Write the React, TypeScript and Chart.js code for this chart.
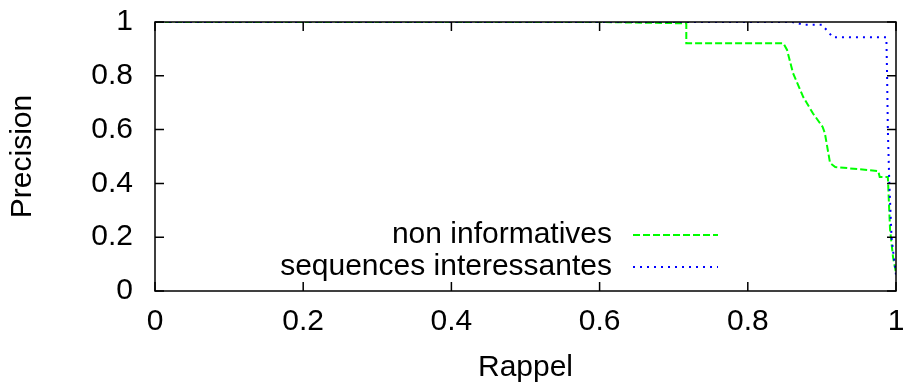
import { useEffect, useRef } from "react";
import { Chart, registerables } from "chart.js";

Chart.register(...registerables);

// Axis ticks
const xTicks = [0, 0.2, 0.4, 0.6, 0.8, 1];
const yTicks = [0, 0.2, 0.4, 0.6, 0.8, 1];

// Series names
const seriesNames = ["non informatives", "sequences interessantes"];

// Precision / recall curve: non informatives
const nonInfoRecall = [0, 0.6, 0.717, 0.717, 0.848, 0.853, 0.861, 0.875, 0.888, 0.901, 0.904, 0.911, 0.918, 0.976, 0.978, 0.989, 0.992, 0.996, 1];
const nonInfoPrecision = [1, 1, 0.995, 0.921, 0.921, 0.896, 0.81, 0.72, 0.66, 0.61, 0.587, 0.476, 0.461, 0.446, 0.424, 0.424, 0.227, 0.126, 0.067];

// Precision / recall curve: sequences interessantes
const seqRecall = [0, 0.86, 0.875, 0.9, 0.915, 0.987, 0.988, 0.989, 0.991, 0.994, 0.997, 1];
const seqPrecision = [1, 1, 0.99, 0.99, 0.943, 0.943, 0.8, 0.6, 0.4, 0.2, 0.126, 0.06];

const FONT = "'Liberation Sans', Arial, Helvetica, sans-serif";
const FONT_SIZE = 30;

const toPoints = (xs: number[], ys: number[]) => xs.map((x, i) => ({ x, y: ys[i] }));

const fmt = (v: number) => String(Number(v.toFixed(1)));

// Fixed scale box size, no extra label overhang padding
const fixBox = (size: number, horizontal: boolean) => (s: any) => {
  if (horizontal) s.height = size;
  else s.width = size;
  s.paddingTop = 0;
  s.paddingBottom = 0;
  s.paddingLeft = 0;
  s.paddingRight = 0;
};

// Border with inward (mirrored) tick marks, plus a gnuplot-style key
const framePlugin = {
  id: "frame",
  afterDatasetsDraw(chart: any) {
    const { ctx, chartArea } = chart;
    const { left, right, top, bottom } = chartArea;
    const xs = chart.scales.x;
    const ys = chart.scales.y;
    const tl = 9;
    ctx.save();
    ctx.strokeStyle = "#000";
    ctx.lineWidth = 1.5;
    ctx.setLineDash([]);
    ctx.strokeRect(left, top, right - left, bottom - top);
    ctx.beginPath();
    for (const v of xTicks) {
      const px = xs.getPixelForValue(v);
      ctx.moveTo(px, bottom);
      ctx.lineTo(px, bottom - tl);
      ctx.moveTo(px, top);
      ctx.lineTo(px, top + tl);
    }
    for (const v of yTicks) {
      const py = ys.getPixelForValue(v);
      ctx.moveTo(left, py);
      ctx.lineTo(left + tl, py);
      ctx.moveTo(right, py);
      ctx.lineTo(right - tl, py);
    }
    ctx.stroke();

    // key
    const textRight = right - 284;
    const lineStart = right - 263;
    const lineEnd = right - 178;
    const rowTop = bottom - 56;
    const rowStep = 32;
    ctx.font = `${FONT_SIZE}px ${FONT}`;
    ctx.textAlign = "right";
    ctx.textBaseline = "middle";
    chart.data.datasets.forEach((ds: any, i: number) => {
      const y = rowTop + i * rowStep;
      ctx.fillStyle = "#000";
      ctx.fillText(ds.label, textRight, y);
      ctx.strokeStyle = ds.borderColor;
      ctx.lineWidth = ds.borderWidth;
      ctx.setLineDash(ds.borderDash || []);
      ctx.beginPath();
      ctx.moveTo(lineStart, y);
      ctx.lineTo(lineEnd, y);
      ctx.stroke();
    });
    ctx.restore();
  },
};

export default function App() {
  const canvasRef = useRef<HTMLCanvasElement | null>(null);

  useEffect(() => {
    document.body.style.margin = "0";
    const canvas = canvasRef.current;
    if (!canvas) return;
    const chart = new Chart(canvas, {
      type: "line",
      data: {
        datasets: [
          {
            label: seriesNames[0],
            data: toPoints(nonInfoRecall, nonInfoPrecision),
            borderColor: "#00ff00",
            borderWidth: 2,
            borderDash: [7, 3],
            pointRadius: 0,
            tension: 0,
            fill: false,
            order: 2,
          },
          {
            label: seriesNames[1],
            data: toPoints(seqRecall, seqPrecision),
            borderColor: "#0000ff",
            borderWidth: 2,
            borderDash: [2, 5],
            pointRadius: 0,
            tension: 0,
            fill: false,
            order: 1,
          },
        ],
      },
      options: {
        animation: false,
        responsive: false,
        devicePixelRatio: 1,
        layout: { padding: { top: 22, right: 10, left: 0, bottom: 0 } },
        plugins: {
          legend: { display: false },
          tooltip: { enabled: false },
        },
        scales: {
          x: {
            type: "linear",
            min: 0,
            max: 1,
            afterBuildTicks: (s: any) => {
              s.ticks = xTicks.map((value) => ({ value }));
            },
            afterFit: fixBox(98, true),
            grid: { display: false, drawTicks: false },
            border: { display: false },
            ticks: {
              color: "#000",
              padding: 13,
              maxRotation: 0,
              autoSkip: false,
              font: { family: FONT, size: FONT_SIZE },
              callback: (v: any) => fmt(Number(v)),
            },
            title: {
              display: true,
              text: "Rappel",
              color: "#000",
              font: { family: FONT, size: FONT_SIZE },
              padding: { top: 0, bottom: 3 },
            },
          },
          y: {
            type: "linear",
            min: 0,
            max: 1,
            afterBuildTicks: (s: any) => {
              s.ticks = yTicks.map((value) => ({ value }));
            },
            afterFit: fixBox(155, false),
            grid: { display: false, drawTicks: false },
            border: { display: false },
            ticks: {
              color: "#000",
              padding: 22,
              autoSkip: false,
              font: { family: FONT, size: FONT_SIZE },
              callback: (v: any) => fmt(Number(v)),
            },
            title: {
              display: true,
              text: "Precision",
              color: "#000",
              font: { family: FONT, size: FONT_SIZE },
              padding: { top: 5, bottom: 0 },
            },
          },
        },
      },
      plugins: [framePlugin],
    });
    return () => chart.destroy();
  }, []);

  return (
    <div style={{ position: "relative", width: 906, height: 389 }}>
      <canvas ref={canvasRef} width={906} height={389} />
    </div>
  );
}
